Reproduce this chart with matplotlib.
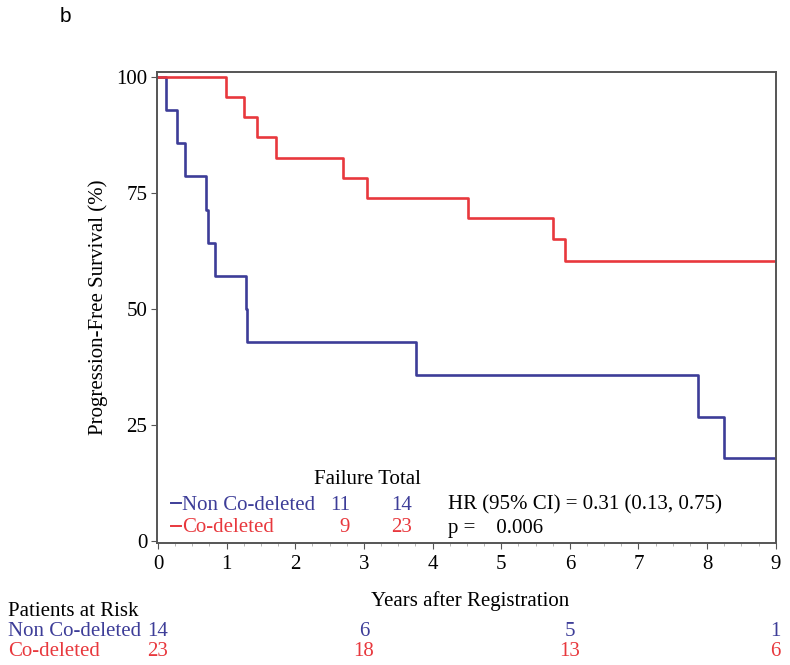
import numpy as np
import matplotlib.pyplot as plt
from matplotlib.ticker import MultipleLocator

# Kaplan-Meier step data (years, survival %)
non_t = [0, 0.12, 0.27, 0.40, 0.70, 0.73, 0.83, 1.28, 1.30, 3.76, 7.87, 8.24, 9.0]
non_s = [100, 92.9, 85.7, 78.6, 71.4, 64.3, 57.1, 50.0, 42.9, 35.7, 26.8, 17.9, 17.9]
co_t = [0, 0.99, 1.26, 1.44, 1.72, 2.69, 3.05, 4.52, 5.75, 5.93, 9.0]
co_s = [100, 95.7, 91.3, 87.0, 82.6, 78.3, 73.9, 69.6, 65.2, 60.4, 60.4]

groups = ["Non Co-deleted", "Co-deleted"]
failures = [11, 9]
totals = [14, 23]
hr_text = "HR (95% CI) = 0.31 (0.13, 0.75)"
p_text = "p =    0.006"

risk_times = [0, 3, 6, 9]
risk_non = [14, 6, 5, 1]
risk_co = [23, 18, 13, 6]

blue = "#3d3d98"
red = "#e8383d"
spine_c = "#555555"

plt.rcParams["font.family"] = ["Liberation Serif", "DejaVu Serif"]

fig = plt.figure(figsize=(7.9, 6.65), dpi=100)
ax = fig.add_axes([0.1987, 0.1835, 0.7833, 0.7082])

ax.step(non_t, non_s, where="post", color=blue, lw=1.9)
ax.step(co_t, co_s, where="post", color=red, lw=1.9)

ax.set_xlim(-0.015, 9.0)
ax.set_ylim(-0.45, 101.1)
ax.set_xticks(range(0, 10))
ax.set_yticks([0, 25, 50, 75, 100])
ax.xaxis.set_minor_locator(MultipleLocator(0.25))
ax.tick_params(axis="both", which="major", direction="out", length=4,
               color=spine_c, labelsize=15, width=0.8)
ax.tick_params(axis="x", which="minor", direction="out", length=2,
               color="#aaaaaa", width=0.6)
ax.tick_params(axis="x", pad=5)
ax.tick_params(axis="y", pad=3)
for s in ax.spines.values():
    s.set_color(spine_c)
    s.set_linewidth(1.4)

ax.set_ylabel("Progression-Free Survival (%)", fontsize=15, labelpad=6)

# legend block inside the axes
fs = 15
fig.text(367 / 790, 1 - 480 / 665, "Failure Total", fontsize=fs, ha="center", va="center")
rows_y = [505, 528]
colors = [blue, red]
for i in range(2):
    y = 1 - rows_y[i] / 665
    fig.add_artist(plt.Line2D([171 / 790, 181 / 790], [y + 0.003, y + 0.003],
                              color=colors[i], lw=1.4))
    fig.text(182 / 790, y, groups[i], fontsize=fs, color=colors[i], va="center")
    fig.text(350 / 790, y, str(failures[i]), fontsize=fs, color=colors[i],
             va="center", ha="right")
    fig.text(412 / 790, y, str(totals[i]), fontsize=fs, color=colors[i],
             va="center", ha="right")
fig.text(448 / 790, 1 - rows_y[0] / 665, hr_text, fontsize=fs, va="center")
fig.text(448 / 790, 1 - rows_y[1] / 665, p_text, fontsize=fs, va="center")

# x label
fig.text(470 / 790, 1 - 601 / 665, "Years after Registration", fontsize=15,
         ha="center", va="center")

# patients at risk table
fig.text(8 / 790, 1 - 611 / 665, "Patients at Risk", fontsize=fs, va="center")
fig.text(8 / 790, 1 - 631 / 665, groups[0], fontsize=fs, color=blue, va="center")
fig.text(8 / 790, 1 - 652 / 665, groups[1], fontsize=fs, color=red, va="center")
for t, n1, n2 in zip(risk_times, risk_non, risk_co):
    xf = ax.transData.transform((t, 0))[0] / fig.bbox.width
    fig.text(xf, 1 - 631 / 665, str(n1), fontsize=fs, color=blue, ha="center", va="center")
    fig.text(xf, 1 - 652 / 665, str(n2), fontsize=fs, color=red, ha="center", va="center")

fig.text(65 / 790, 1 - 17 / 665, "b", fontsize=15, family="Liberation Sans",
         ha="center", va="center")

fig.savefig("out.png", dpi=100)
